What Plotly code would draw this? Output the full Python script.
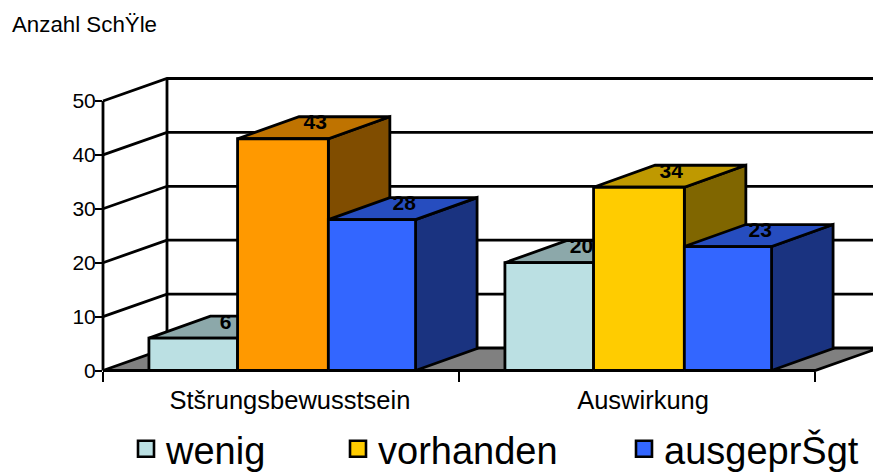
import plotly.graph_objects as go

categories = ["Stšrungsbewusstsein", "Auswirkung"]
series_names = ["wenig", "vorhanden", "ausgeprŠgt"]
wenig = [6, 20]
vorhanden = [43, 34]
ausgepraegt = [28, 23]
y_ticks = [0, 10, 20, 30, 40, 50]
title_text = "Anzahl SchŸle"

W, H = 873, 472
PX_X = 356.0   # pixels per category
PX_Y = 5.39    # pixels per value unit
ORIGIN_X, ORIGIN_Y = 103.0, 370.5  # pixel position of the front-left floor corner
WALL_DX, WALL_DY = 64 / PX_X, 22.5 / PX_Y
BAR_DX, BAR_DY = 61.5 / PX_X, 22 / PX_Y
LABEL_LIFT = 3.5 / PX_Y
LABEL_SHIFT = 1.5 / PX_X
EDGES = [0.129, 0.378, 0.633, 0.878]
LW = 2.8
# Plot area of the (hidden) drawing axes, in pixels
L, R, T, B = 90.0, 873.0, 60.0, 385.0

front_colors = [["#BBE0E3", "#FF9900", "#3366FF"], ["#BBE0E3", "#FFCC00", "#3366FF"]]
top_colors = [["#8CA8AA", "#BF7300", "#264DBF"], ["#8CA8AA", "#BF9900", "#264DBF"]]
side_colors = [["#5E7072", "#804D00", "#1A3380"], ["#5E7072", "#806600", "#1A3380"]]
legend_colors = ["#BBE0E3", "#FFCC00", "#3366FF"]

fig = go.Figure()


def poly(xs, ys, fill=None):
    fig.add_trace(go.Scatter(
        x=xs, y=ys, mode="lines", fill="toself" if fill else None, fillcolor=fill,
        line=dict(color="black", width=LW, simplify=False),
        showlegend=False, hoverinfo="skip"))


# Walls
for v in y_ticks[1:]:
    poly([0, WALL_DX, 2 + WALL_DX], [v, v + WALL_DY, v + WALL_DY])
poly([WALL_DX, WALL_DX], [WALL_DY, y_ticks[-1] + WALL_DY])
poly([0, 0], [0, y_ticks[-1]])

# Floor
poly([0, 2, 2 + WALL_DX, WALL_DX, 0], [0, 0, WALL_DY, WALL_DY, 0], "#808080")

# Bars, back-to-front painter's order
table = [wenig, vorhanden, ausgepraegt]
for c in range(len(categories)):
    for s, vals in enumerate(table):
        v = vals[c]
        x0, x1 = c + EDGES[s], c + EDGES[s + 1]
        poly([x1, x1 + BAR_DX, x1 + BAR_DX, x1, x1], [0, BAR_DY, v + BAR_DY, v, 0], side_colors[c][s])
        poly([x0, x1, x1 + BAR_DX, x0 + BAR_DX, x0], [v, v, v + BAR_DY, v + BAR_DY, v], top_colors[c][s])
        poly([x0, x1, x1, x0, x0], [0, 0, v, v, 0], front_colors[c][s])
        fig.add_trace(go.Scatter(
            x=[(x0 + x1 + BAR_DX) / 2 + LABEL_SHIFT], y=[v + BAR_DY / 2 + LABEL_LIFT], mode="text",
            text=[str(v)], textposition="middle center",
            textfont=dict(family="Liberation Sans", size=21, color="black", weight="bold"),
            showlegend=False, hoverinfo="skip"))

# Legend entries
for i, name in enumerate(series_names):
    fig.add_trace(go.Scatter(
        x=[None], y=[None], mode="markers", name=name,
        legend="legend" if i == 0 else f"legend{i + 1}",
        marker=dict(symbol="square", size=16, color=legend_colors[i], line=dict(color="black", width=2.6))))

# Dummy trace that brings the visible axes into being
fig.add_trace(go.Scatter(x=[None], y=[None], xaxis="x2", yaxis="y2", mode="markers",
                         showlegend=False, hoverinfo="skip"))

lf = dict(family="Liberation Sans", size=38, color="black")


def leg(px):
    return dict(x=px / W, y=1 - 417.5 / H, xanchor="left", yanchor="top", font=lf,
                bgcolor="rgba(0,0,0,0)", borderwidth=0, orientation="h",
                xref="container", yref="container")


hidden = dict(visible=False, showgrid=False, zeroline=False)
plot_w, plot_h = R - L, B - T
tickf = dict(family="Liberation Sans", color="black")

fig.update_layout(
    width=W, height=H, paper_bgcolor="white", plot_bgcolor="rgba(0,0,0,0)",
    margin=dict(l=L, r=W - R, t=T, b=H - B, pad=0, autoexpand=False),
    font=dict(family="Liberation Sans", color="black"),
    title=dict(text=title_text, x=12 / W, xref="container", xanchor="left",
               y=1 - 24 / H, yref="container", yanchor="middle",
               font=dict(family="Liberation Sans", size=22.3, color="black")),
    xaxis=dict(range=[(L - ORIGIN_X) / PX_X, (R - ORIGIN_X) / PX_X], domain=[0, 1], **hidden),
    yaxis=dict(range=[(ORIGIN_Y - B) / PX_Y, (ORIGIN_Y - T) / PX_Y], domain=[0, 1], **hidden),
    xaxis2=dict(range=[0, 2], anchor="y2",
                domain=[(ORIGIN_X - L) / plot_w, (ORIGIN_X + 2 * PX_X - L) / plot_w],
                tickvals=[0.525, 1.517], ticktext=categories, showgrid=False, zeroline=False,
                showline=False, ticks="outside", ticklen=7,
                tickcolor="rgba(0,0,0,0)", tickfont=dict(size=25.5, **tickf),
                minor=dict(tickvals=[0, 1, 2], ticks="outside", ticklen=10, tickwidth=2.4,
                           tickcolor="black", showgrid=False)),
    yaxis2=dict(range=[0, 50], anchor="x2",
                domain=[(B - ORIGIN_Y) / plot_h, (B - ORIGIN_Y + 50 * PX_Y) / plot_h],
                tickvals=y_ticks, showgrid=False, zeroline=False, showline=False,
                ticks="outside", ticklen=7, tickwidth=2.4, ticklabelstandoff=-5,
                tickcolor="black", tickfont=dict(size=21, **tickf)),
    legend=leg(126), legend2=leg(338), legend3=leg(624),
)

fig.write_html("out.html", post_script="document.body.style.margin='0';",
               config={"displayModeBar": False})
